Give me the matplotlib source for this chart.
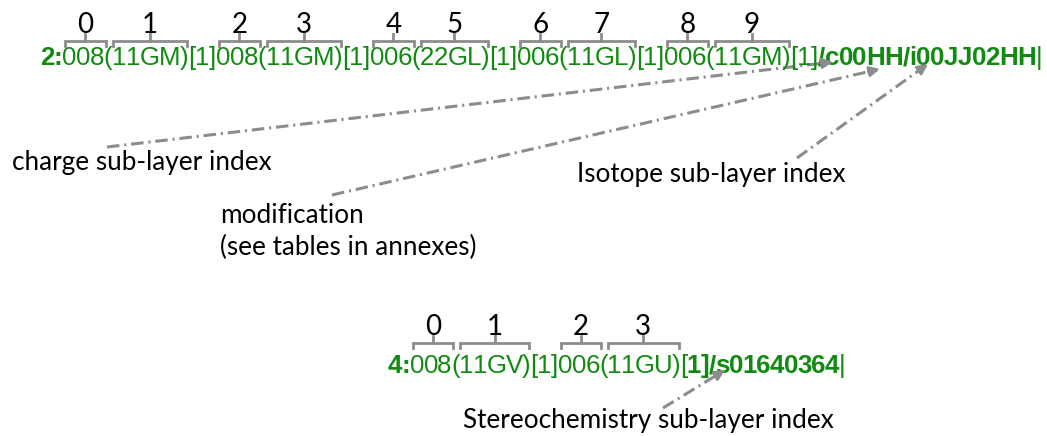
import matplotlib
matplotlib.use("Agg")
import matplotlib.pyplot as plt
from matplotlib.font_manager import FontProperties, findfont
from matplotlib.ft2font import FT2Font

# --- content -------------------------------------------------------------
line1_pieces = ["2:", "008", "(11GM)", "[1]", "008", "(11GM)", "[1]",
                "006", "(22GL)", "[1]", "006", "(11GL)", "[1]",
                "006", "(11GM)", "[1]", "/c00HH/i00JJ02HH", "|"]
line1_bold = [1, 0, 0, 0, 0, 0, 0, 0, 0, 0, 0, 0, 0, 0, 0, 0, 1, 0]
line1_brackets = [1, 2, 4, 5, 7, 8, 10, 11, 13, 14]
line1_labels = ["0", "1", "2", "3", "4", "5", "6", "7", "8", "9"]

line2_pieces = ["4:", "008", "(11GV)", "[1]", "006", "(11GU)", "[",
                "1]/s01640364", "|"]
line2_bold = [1, 0, 0, 0, 0, 0, 0, 1, 0]
line2_brackets = [1, 2, 4, 5]
line2_labels = ["0", "1", "2", "3"]

callouts = ["charge sub-layer index",
            "modification\n(see tables in annexes)",
            "Isotope sub-layer index",
            "Stereochemistry sub-layer index"]

# --- layout (pixel coordinates, y down) ----------------------------------
GREEN = "#118a11"
GRAY = "#8c8c8c"
CODE_FONT = "Liberation Sans"
LABEL_FONT = "Lato"
CODE_SIZE = 18.6

line1_pos = (40, 65, 1002)    # left, baseline, total width
line2_pos = (388, 373, 457)
callout_pos = [(12, 170), (220, 223), (577, 182), (463, 428)]
arrow_from = [(107, 147), (332, 195), (797, 158), (663, 408)]
arrow_to = [(833, 62), (880, 69), (928, 64), (725, 370)]

plt.rcParams["lines.scale_dashes"] = False

fig = plt.figure(figsize=(10.47, 4.36), dpi=100)
ax = fig.add_axes([0, 0, 1, 1])
ax.set_xlim(0, 1047)
ax.set_ylim(436, 0)
ax.axis("off")
renderer = fig.canvas.get_renderer()

fonts = {}
for b in (0, 1):
    fp = FontProperties(family=CODE_FONT, weight="bold" if b else "normal")
    f = FT2Font(findfont(fp))
    f.set_size(CODE_SIZE, 100)
    fonts[b] = f


def adv(c, b):
    return fonts[b].load_char(ord(c)).linearHoriAdvance / 65536.0


def draw_run(pieces, bold, pos):
    x0, y, width = pos
    natural = sum(adv(c, b) for s, b in zip(pieces, bold) for c in s)
    k = width / natural
    spans = []
    x = x0
    for s, b in zip(pieces, bold):
        start = x
        for c in s:
            ax.text(x, y, c, fontsize=CODE_SIZE, family=CODE_FONT,
                    color=GREEN, fontweight="bold" if b else "normal",
                    ha="left", va="baseline")
            x += adv(c, b) * k
        spans.append((start, x, s.startswith("(")))
    return spans


def draw_brackets(spans, idx, labels, ybar):
    for i, lab in zip(idx, labels):
        a, b, paren = spans[i]
        if paren:
            a, b = a + 9, b - 1
        else:
            a, b = a + 3, b + 2
        c = (a + b) / 2
        ax.plot([a, a, b, b], [ybar + 5, ybar, ybar, ybar + 5],
                color=GRAY, lw=2, solid_joinstyle="miter")
        ax.plot([c, c], [ybar, ybar - 7], color=GRAY, lw=2)
        ax.text(c, ybar - 8, lab, fontsize=label_size * 1.06,
                family=LABEL_FONT, color="black", ha="center",
                va="baseline")


# label font size: fit the longest callout
t = ax.text(0, 0, callouts[3], fontsize=16, family=LABEL_FONT)
label_size = 16 * 372 / t.get_window_extent(renderer).width
t.remove()

spans1 = draw_run(line1_pieces, line1_bold, line1_pos)
spans2 = draw_run(line2_pieces, line2_bold, line2_pos)

draw_brackets(spans1, line1_brackets, line1_labels, 41)
draw_brackets(spans2, line2_brackets, line2_labels, 343)

for txt, (x, y) in zip(callouts, callout_pos):
    for k, part in enumerate(txt.split("\n")):
        ax.text(x, y + 32 * k, part, fontsize=label_size, family=LABEL_FONT,
                color="black", ha="left", va="baseline")

for (x0, y0), (x1, y1) in zip(arrow_from, arrow_to):
    dx, dy = x1 - x0, y1 - y0
    n = (dx ** 2 + dy ** 2) ** 0.5
    ux, uy = dx / n, dy / n
    ax.plot([x0, x1 - 8 * ux], [y0, y1 - 8 * uy], color=GRAY, lw=2.2,
            dashes=(9, 3.5, 1.5, 3.5))
    ax.annotate("", xy=(x1, y1), xytext=(x1 - 12 * ux, y1 - 12 * uy),
                arrowprops=dict(arrowstyle="-|>,head_length=0.6,head_width=0.3",
                                color=GRAY, lw=2, shrinkA=0, shrinkB=0))

fig.savefig("out.png", dpi=100)
